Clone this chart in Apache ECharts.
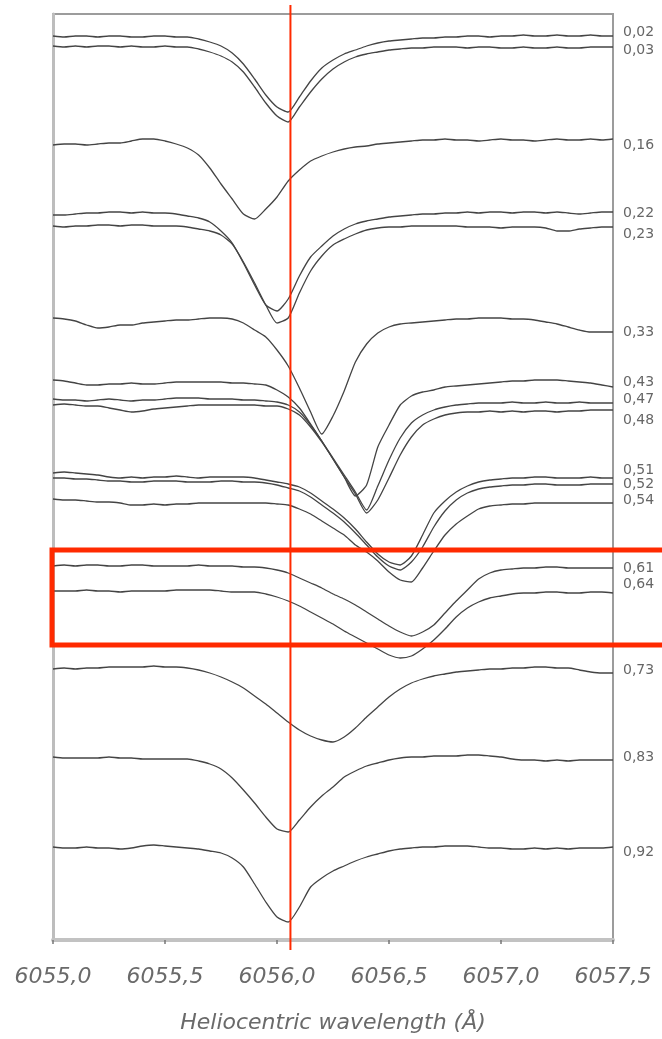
<!DOCTYPE html>
<html><head><meta charset="utf-8">
<script src="https://cdn.jsdelivr.net/npm/echarts/dist/echarts.min.js"></script>
<style>html,body{margin:0;padding:0;background:#fff}#c{width:662px;height:1039px}</style>
</head><body><div id="c"></div>
<script>
// Wavelength grid (Å)
const wavelengths = [6055.00,6055.05,6055.10,6055.15,6055.20,6055.25,6055.30,6055.35,6055.40,6055.45,6055.50,6055.55,6055.60,6055.65,6055.70,6055.75,6055.80,6055.85,6055.90,6055.95,6056.00,6056.05,6056.10,6056.15,6056.20,6056.25,6056.30,6056.35,6056.40,6056.45,6056.50,6056.55,6056.60,6056.65,6056.70,6056.75,6056.80,6056.85,6056.90,6056.95,6057.00,6057.05,6057.10,6057.15,6057.20,6057.25,6057.30,6057.35,6057.40,6057.45,6057.50];
const xTicks = [6055.0, 6055.5, 6056.0, 6056.5, 6057.0, 6057.5];
// Phase labels (right side)
const phases = ['0,02','0,03','0,16','0,22','0,23','0,33','0,43','0,47','0,48','0,51','0,52','0,54','0,61','0,64','0,73','0,83','0,92'];
// Label anchor positions (offset-flux units, axis inverted)
const labelY = [32,50,145,213,234,332,382,399,420,470,484,500,568,584,670,757,852];
// Shifted line profiles (offset-flux units, larger = lower on the plot)
const s002 = [36,37,36,36,37,36,36,37,37,36,36,37,37,39,42,46,53,64,79,95,107,112,97,81,68,60,54,50,46,43,41,40,39,38,38,37,37,36,36,37,36,36,35,36,36,35,36,36,35,36,36];
const s003 = [46,47,46,47,46,46,47,46,47,47,46,47,47,49,52,56,62,72,87,103,116,122,107,92,79,69,62,57,54,52,50,49,48,48,47,47,47,48,47,47,48,48,47,48,48,47,48,48,47,47,47];
const s016 = [145,144,144,145,144,143,143,141,139,139,141,144,148,155,168,184,199,214,219,209,197,181,170,161,156,152,149,147,146,144,143,142,141,140,140,139,140,140,141,140,139,140,140,141,140,139,140,140,139,140,139];
const s022 = [215,215,214,213,213,212,212,213,212,213,213,214,216,218,222,231,243,263,285,305,311,299,276,257,246,236,229,224,221,219,217,216,215,214,214,213,213,212,213,212,212,213,212,212,213,212,213,214,213,212,212];
const s023 = [226,227,226,226,225,225,226,225,225,226,226,226,227,229,231,235,244,262,283,305,323,318,293,271,256,245,239,234,230,228,227,227,226,226,226,226,226,227,227,227,228,227,227,227,228,231,231,229,228,227,227];
const s033 = [318,319,321,325,328,327,325,325,323,322,321,320,320,319,318,318,319,323,330,337,350,366,388,412,434,416,391,362,344,333,327,324,323,322,321,320,319,319,318,318,318,319,319,320,322,324,327,330,332,332,332];
const s043 = [380,381,383,385,385,384,384,383,384,384,383,382,382,382,382,382,383,383,384,385,390,397,408,424,441,459,477,496,485,447,425,405,396,392,390,387,386,385,384,383,382,381,381,380,380,380,381,382,383,385,387];
const s047 = [399,400,400,401,400,399,400,401,400,400,399,398,398,398,399,399,399,400,400,401,402,405,412,425,441,458,475,492,510,486,460,438,423,415,410,407,405,404,403,403,403,402,403,403,402,403,403,402,403,403,403];
const s048 = [405,404,405,406,406,408,410,412,411,409,408,407,406,405,405,405,405,405,405,406,406,409,415,427,442,459,477,494,513,500,478,455,437,425,419,415,413,412,412,411,412,411,412,411,411,412,411,411,410,410,410];
const s051 = [473,472,473,474,475,477,478,477,478,477,477,476,477,478,477,477,477,477,478,480,482,484,487,493,501,509,518,529,542,554,562,565,556,535,513,501,492,486,482,480,479,478,478,477,477,478,478,478,477,478,478];
const s052 = [478,478,479,479,480,481,481,482,482,481,481,481,482,482,482,481,481,482,482,483,485,488,491,497,505,513,522,533,545,557,566,570,562,547,527,511,500,493,489,487,486,485,485,484,484,485,485,485,484,484,484];
const s054 = [499,500,500,501,502,502,503,505,505,504,505,504,504,503,503,503,503,503,503,503,504,505,509,514,521,528,535,545,552,561,572,580,582,568,551,535,524,516,509,506,505,504,504,503,503,503,503,503,503,503,503];
const s061 = [566,565,566,565,565,566,566,565,565,566,566,566,566,565,566,566,566,567,567,568,570,573,578,583,588,594,599,605,612,619,626,632,636,632,625,613,601,590,579,573,570,569,568,568,567,567,568,568,568,568,568];
const s064 = [591,591,591,590,591,591,592,591,591,591,591,590,590,590,590,591,592,592,592,594,597,601,606,612,618,624,631,637,643,649,655,658,656,649,640,629,617,608,602,598,596,594,593,593,592,592,593,593,592,592,593];
const s073 = [669,668,669,668,668,667,667,667,667,666,667,667,668,670,673,677,682,688,696,704,713,722,730,736,740,742,737,728,717,707,697,689,683,679,676,674,672,671,670,669,669,668,668,667,667,668,668,670,672,673,673];
const s083 = [757,758,758,758,758,757,758,758,759,759,759,759,759,761,764,769,778,790,803,817,829,832,820,807,796,787,777,771,766,763,760,758,757,757,756,756,756,755,755,756,757,759,760,760,761,760,761,760,760,760,760];
const s092 = [847,848,848,847,848,848,849,848,846,845,846,847,848,849,851,853,858,867,884,902,917,922,907,887,878,871,866,861,857,854,851,849,848,847,847,846,846,846,847,848,848,849,849,848,849,848,849,848,848,848,847];
const profiles = [s002,s003,s016,s022,s023,s033,s043,s047,s048,s051,s052,s054,s061,s064,s073,s083,s092];
// Annotations
const markerWavelength = 6056.06;
const highlightBand = [550, 645];

const chart = echarts.init(document.getElementById('c'), null, {renderer: 'canvas'});
const G = {left: 53, right: 49, top: 14, bottom: 99};
const series = profiles.map((p, k) => ({
  name: phases[k],
  type: 'line',
  data: wavelengths.map((w, i) => [w, p[i]]),
  showSymbol: false,
  smooth: 0.2,
  lineStyle: {color: '#444', width: 1.3},
  silent: true,
  z: 3
}));
chart.setOption({
  animation: false,
  backgroundColor: '#fff',
  grid: Object.assign({show: true, borderColor: '#9c9c9c', borderWidth: 2, backgroundColor: 'transparent'}, G),
  xAxis: {
    type: 'value', min: 6055.0, max: 6057.5, interval: 0.5,
    name: 'Heliocentric wavelength (Å)', nameLocation: 'middle', nameGap: 72,
    nameTextStyle: {fontFamily: 'DejaVu Sans', fontStyle: 'italic', fontSize: 22, color: '#6a6a6a'},
    axisLine: {show: true, lineStyle: {color: '#c2c2c2', width: 4}},
    axisTick: {show: true, length: 4, lineStyle: {color: '#777', width: 1.5}},
    splitLine: {show: false},
    axisLabel: {
      margin: 26, fontFamily: 'DejaVu Sans', fontStyle: 'italic', fontSize: 22, color: '#6a6a6a',
      formatter: v => xTicks.includes(+v.toFixed(1)) ? v.toFixed(1).replace('.', ',') : ''
    }
  },
  yAxis: {
    type: 'value', inverse: true, min: 14, max: 940,
    axisLine: {show: true, lineStyle: {color: '#bdbdbd', width: 3}},
    axisTick: {show: false}, axisLabel: {show: false}, splitLine: {show: false}
  },
  series: series
});

const xr = chart.convertToPixel({xAxisIndex: 0}, markerWavelength);
const yTop = chart.convertToPixel({yAxisIndex: 0}, highlightBand[0]);
const yBot = chart.convertToPixel({yAxisIndex: 0}, highlightBand[1]);
const xRight = chart.convertToPixel({xAxisIndex: 0}, 6057.5);
const graphics = phases.map((t, i) => ({
  type: 'text',
  x: xRight + 10,
  y: chart.convertToPixel({yAxisIndex: 0}, labelY[i]),
  style: {text: t, fontFamily: 'DejaVu Sans', fontSize: 14, fill: '#666', textVerticalAlign: 'middle', textAlign: 'left'},
  z: 50
}));
graphics.push({type: 'line', shape: {x1: xr, y1: 5, x2: xr, y2: 950}, style: {stroke: '#ff2a00', lineWidth: 2}, z: 100});
graphics.push({type: 'rect', shape: {x: 52, y: yTop, width: 620, height: yBot - yTop}, style: {fill: 'none', stroke: '#ff2a00', lineWidth: 5}, z: 100});
chart.setOption({graphic: graphics});
</script>
</body></html>
